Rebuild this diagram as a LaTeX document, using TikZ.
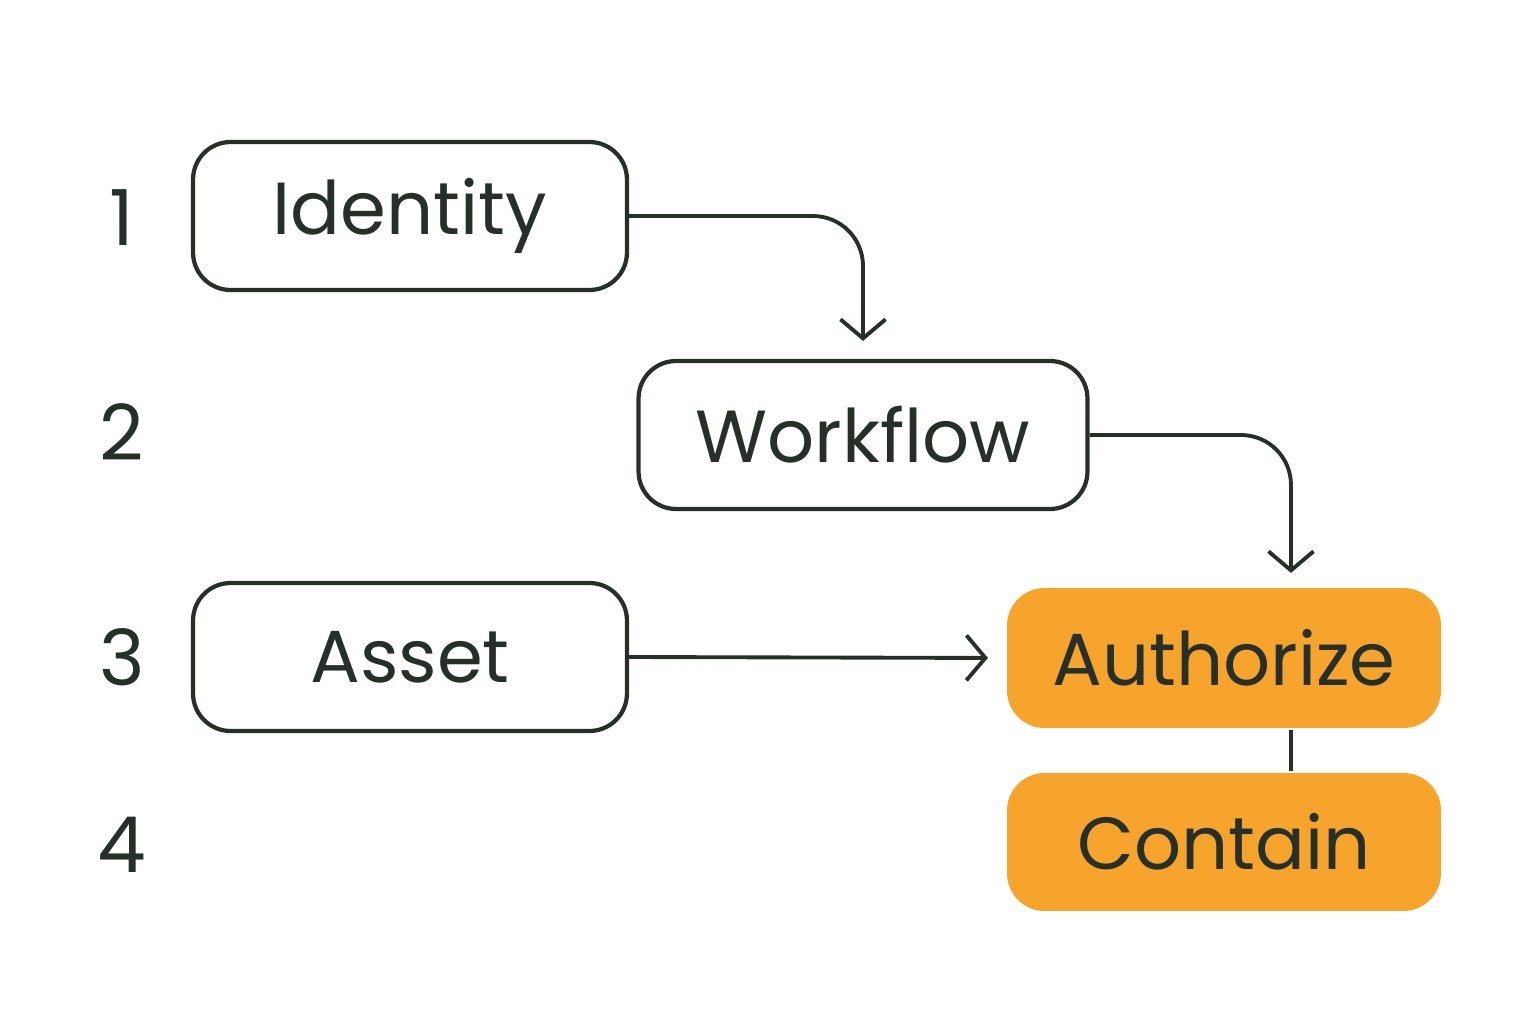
\documentclass[tikz,border=0pt]{standalone}
\usepackage{fontspec}
\setmainfont{Poppins}
\usetikzlibrary{positioning, arrows.meta}
\definecolor{ink}{HTML}{263029}
\definecolor{amber}{HTML}{F6A42B}

\tikzset{
    stage/.style={draw=ink, line width=2.4pt, rounded corners=0.75cm, minimum width=8.68cm,
        minimum height=2.96cm, font=\fontsize{42}{48}\selectfont, text=ink},
    hot/.style={stage, draw=none, fill=amber, minimum height=2.8cm},
    rank/.style={font=\fontsize{44}{50}\selectfont, text=ink},
    link/.style={draw=ink, line width=2.2pt, rounded corners=1cm,
        -{Straight Barb[length=0.38cm, width=0.9cm, line width=2.2pt]}},
}

\begin{document}
\begin{tikzpicture}[x=0.02cm, y=-0.02cm]
    \useasboundingbox (0,0) rectangle (1536,1024);

    % Row numbers
    \node[rank] (n1) at (122,218) {1};
    \node[rank] (n2) at (122,432) {2};
    \node[rank] (n3) at (122,657) {3};
    \node[rank] (n4) at (122,845) {4};

    % Stages
    \node[stage] (identity) at (410,216) {Identity};
    \node[stage, minimum width=8.98cm] (workflow) at (863,435) {Workflow};
    \node[stage] (asset) at (410,657) {Asset};
    \node[hot] (authorize) at (1224,658) {Authorize};
    \node[hot, minimum height=2.76cm] (contain) at (1224,842) {Contain};

    % Connectors
    \draw[link, shorten >=0.36cm] (identity.east) -| (workflow.north);
    \coordinate (drop) at ([xshift=1.34cm]authorize.north);
    \draw[link, shorten >=0.26cm] (workflow.east) -| (drop);
    \draw[link, shorten >=0.34cm] (asset.east) -- (authorize.west);
    \draw[draw=ink, line width=2.2pt] (drop |- authorize.south) -- (drop |- contain.north);
\end{tikzpicture}
\end{document}
